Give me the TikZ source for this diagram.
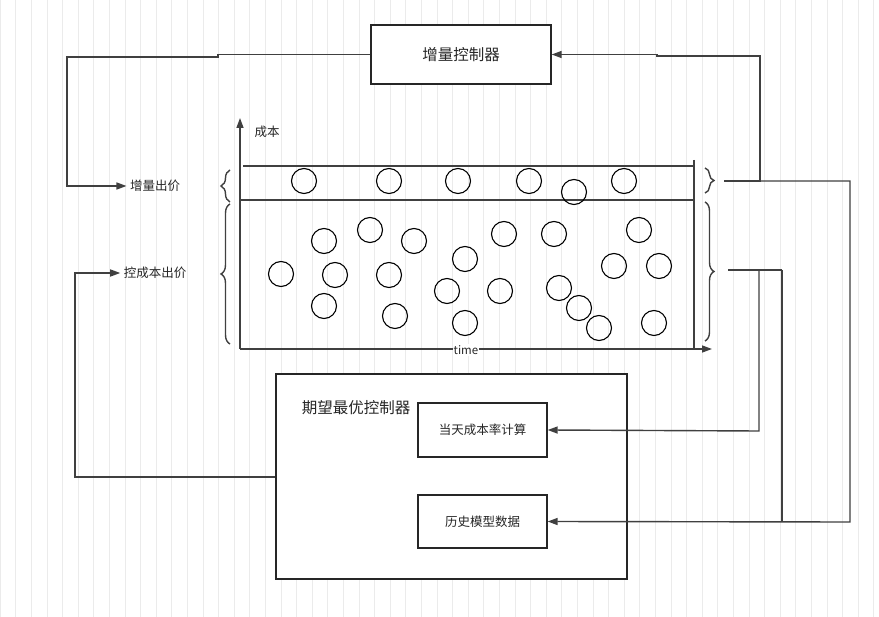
\documentclass[tikz,border=0pt]{standalone}
\usepackage{fontspec}
\newfontfamily\cjk{Noto Sans CJK SC}
\usetikzlibrary{decorations.pathreplacing,arrows.meta}
\begin{document}
\begin{tikzpicture}[x=1pt,y=-1pt,
  ln/.style={draw=black!75,line width=1.4pt},
  arr/.style={ln,-{Triangle[length=10pt,width=7pt]}},
  box/.style={draw=black!85,line width=1.3pt,fill=white},
  lab/.style={font=\cjk\fontsize{12.5}{14}\selectfont,text=black!85},
  dot/.style={circle,draw=black,line width=1.1pt,minimum size=25pt,inner sep=0pt},
  br/.style={draw=black!75,line width=1.4pt,decorate,decoration={brace,amplitude=9pt}}]
\useasboundingbox (0,0) rectangle (879,617);
\fill[white] (0,0) rectangle (879,617);
\draw[black!8,line width=0.6pt,step=15.6] (0,0) grid (879,617);
% top box
\node[box,minimum width=180pt,minimum height=59pt,lab,font=\cjk\fontsize{15.5}{17}\selectfont] (inc) at (461,54.5) {增量控制器};
\node[lab] (l1) at (155,186) {增量出价};
\node[lab] (l2) at (155,273) {控成本出价};
% axes
\coordinate (o) at (240,349);
\coordinate (yt) at (240,118);
\coordinate (xt) at (712,349);
\draw[arr] (o) -- (yt);
\draw[arr] (o) -- (xt);
\node[lab,fill=white,inner sep=1pt,font=\cjk\fontsize{11.5}{13}\selectfont] (time) at (466,350) {time};
\node[lab] (cb) at (267,132) {成本};
\draw[ln] (243,166) -- (694,166);
\draw[ln] (240,200) -- (694,200);
\draw[ln] (694,160) -- (694,349);
% braces
\draw[br] (230,202) -- (230,170);
\draw[br] (230,344) -- (230,204);
\draw[br] (705,168) -- (705,193);
\draw[br] (705,202) -- (705,341);
% circles
\foreach \i/\p in {a/{304,181},b/{389,181},c/{458,181},d/{529,181},e/{574,192},f/{624,181},
 g/{324,241},h/{370,230},i/{414,241},j/{465,259},k/{504,234},l/{554,234},m/{639,230},
 n/{281,274},o2/{335,275},p/{389,275},q/{447,291},r/{500,291},s/{559,288},t/{614,266},u/{659,266},
 v/{324,306},w/{395,316},x/{465,323},y/{579,308},z/{599,328},zz/{654,323}}
  \node[dot] (c\i) at (\p) {};
% bottom boxes
\node[box,minimum width=351pt,minimum height=205pt] (opt) at (451.5,476.5) {};
\node[lab,font=\cjk\fontsize{15.5}{17}\selectfont] (optt) at (356,408) {期望最优控制器};
\node[box,minimum width=129pt,minimum height=54pt,lab] (dt) at (482.5,430) {当天成本率计算};
\node[box,minimum width=129pt,minimum height=53pt,lab] (ls) at (482.5,521.5) {历史模型数据};
% connectors
\coordinate (t1) at (724,181);
\coordinate (t2) at (728,270);
\draw[arr] (inc.west) -- (218,54.5) -- (218,57) -- (67,57) -- (67,186) -- (l1.west);
\draw[arr] (t1) -- (760,181) -- (760,56) -- (657,56) -- (657,54.5) -- (inc.east);
\draw[arr] (760,181) -- (850,181) -- (850,522) -- (ls.east);
\draw[ln] (t2) -- (782,270);
\draw[arr] (759,270) -- (759,431) -- (dt.east);
\draw[ln] (782,270) -- (782,522);
\draw[arr] (opt.west |- 0,477) -- (75,477) -- (75,273) -- (l2.west);
\end{tikzpicture}
\end{document}
